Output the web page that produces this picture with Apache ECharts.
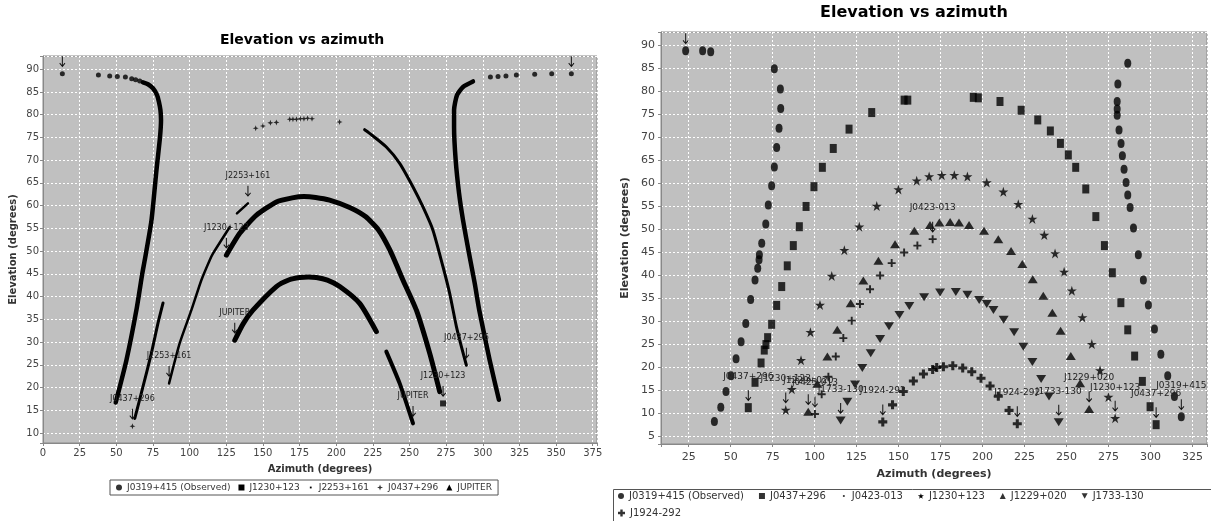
<!DOCTYPE html>
<html>
<head>
<meta charset="utf-8">
<script src="https://cdn.jsdelivr.net/npm/echarts@6/dist/echarts.min.js"></script>
<style>
  html, body { margin: 0; padding: 0; background: #fff; }
  #chart { width: 1211px; height: 521px; }
</style>
</head>
<body>
<div id="chart"></div>
<script>
var chartTitle = 'Elevation vs azimuth';
var azName = 'Azimuth (degrees)';
var elName = 'Elevation (degrees)';

// ---- left plot: [azimuth, elevation] ----
var leftNames = ['J0319+415 (Observed)', 'J1230+123', 'J2253+161', 'J0437+296', 'JUPITER'];

var l0319Dots = [[13.2, 89.0], [37.8, 88.7], [45.5, 88.5], [50.7, 88.4], [56.2, 88.3], [60.5, 87.9], [63.2, 87.7], [66, 87.4],
  [305.2, 88.3], [310.4, 88.4], [315.8, 88.5], [322.9, 88.7], [335.4, 88.9], [347, 89.0], [360.4, 89.0]];
var l0319TrackA = [[68.2, 87.1], [71.6, 86.7], [75, 85.8], [77.8, 84.3], [79.1, 82.8], [80.1, 81], [80.5, 78.8], [79.8, 75],
  [77.4, 67.8], [74, 56.8], [69.4, 48], [67.8, 45.2], [63.7, 37], [56.9, 26], [49.6, 16.7]];
var l0319TrackB = [[293.3, 87.3], [286.5, 86.1], [282.4, 84.3], [280.4, 81], [280.4, 77.3], [281.5, 70], [283.8, 62.7],
  [286.5, 56.8], [290.6, 49.5], [294.5, 42.9], [297.6, 37], [304.7, 26], [311, 17.3]];

var l1230Track = [[125.1, 49.1], [134.2, 53.9], [145.6, 57.9], [159.2, 60.8], [170, 61.7], [178, 62], [186, 61.8], [195.5, 61.2],
  [209.2, 59.6], [220, 57.6], [228.5, 54.8], [236.5, 50.3], [245.6, 43.6], [254.7, 37], [263.8, 27.5], [270.6, 19.1]];
var l1230Dots = [[272.9, 16.5]];

var l2253TrackA = [[86, 20.9], [93.2, 29.7], [101.2, 37], [108, 43.6], [113.7, 48], [116, 49.5], [127.4, 55.3]];
var l2253TrackB = [[132.3, 58.3], [139.8, 60.5]];

var l0437TrackA = [[62.6, 13.2], [68.2, 20.2], [73.9, 27.5], [78.4, 34.1], [81.9, 38.6]];
var l0437TrackB = [[219.4, 76.7], [222.8, 75.9], [234.2, 72.9], [243.3, 69.3], [252.4, 64.1], [259.2, 59.7], [266, 54.6],
  [272.9, 46.5], [277.4, 40.7], [282, 33.4], [285.4, 29], [288.8, 24.9]];
var l0437Dots = [[61, 11.5], [145.1, 77], [150, 77.5], [155.1, 78.2], [159.2, 78.3], [168.3, 79], [170.5, 79], [172.9, 79],
  [175.5, 79.1], [178, 79.1], [180.5, 79.2], [183.5, 79.1], [202.3, 78.4]];

var lJupTrackA = [[130.8, 30.4], [136.5, 34], [143.2, 37], [159.2, 42.2], [168, 43.7], [175.1, 44.2], [181, 44.3], [186.5, 44.2],
  [194, 43.6], [202.4, 42.2], [216, 38.5], [227.4, 32.3]];
var lJupTrackB = [[234.2, 27.9], [243.3, 20.9], [252.4, 12.1]];

// [label, azimuth, elevation]
var leftNotes = [
  ['', 13.2, 89.0], ['', 360.4, 89.0],
  ['J1230+123', 125.1, 49.1], ['J1230+123', 272.9, 16.5],
  ['J2253+161', 86, 20.9], ['J2253+161', 139.8, 60.5],
  ['J0437+296', 61, 11.5], ['J0437+296', 288.8, 24.9],
  ['JUPITER', 130.8, 30.4], ['JUPITER', 252.4, 12.1]
];

// ---- right plot ----
var rightNames = ['J0319+415 (Observed)', 'J0437+296', 'J0423-013', 'J1230+123', 'J1229+020', 'J1733-130', 'J1924-292'];

var r0319 = [[23.2, 88.8], [33.3, 88.8], [38.1, 88.6],
  [40.3, 8.3], [44.1, 11.4], [47.2, 14.8], [50.2, 18.2], [53.2, 21.9], [56.2, 25.6], [59, 29.6], [61.9, 34.8], [64.5, 39],
  [66.1, 41.6], [66.9, 43.4], [67.1, 44.5], [68.5, 47], [70.9, 51.2], [72.4, 55.3], [74.4, 59.5], [76, 63.6], [77.4, 67.8],
  [78.8, 72], [79.8, 76.3], [79.6, 80.5], [76, 84.9],
  [286.5, 86.1], [280.6, 81.6], [280.2, 77.8], [280.2, 76.2], [280.2, 74.8], [281.3, 71.6], [282.5, 68.7], [283.3, 66],
  [284.3, 63.1], [285.5, 60.2], [286.5, 57.5], [287.9, 54.8], [289.9, 50.3], [292.8, 44.5], [295.8, 39], [298.8, 33.6],
  [302.4, 28.4], [306.2, 22.9], [310.3, 18.2], [314.3, 13.7], [318.4, 9.3]];
var r0437 = [[60.5, 11.3], [64.5, 16.8], [68.1, 21], [70, 23.8], [71, 25], [72, 26.5], [74.4, 29.4], [77.4, 33.5], [80.4, 37.6],
  [83.7, 42.1], [87.3, 46.5], [90.9, 50.6], [94.9, 55], [99.6, 59.3], [104.6, 63.5], [111.1, 67.6], [120.5, 71.8], [134, 75.4],
  [153.3, 78.1], [155.5, 78.1], [194.5, 78.7], [197.5, 78.6], [210.4, 77.8], [223, 75.9], [232.9, 73.8], [240.4, 71.4],
  [246.4, 68.7], [251.1, 66.2], [255.5, 63.5], [261.5, 58.8], [267.5, 52.8], [272.6, 46.5], [277.3, 40.6], [282.4, 34.1],
  [286.5, 28.2], [290.6, 22.5], [295.2, 17], [299.8, 11.5], [303.4, 7.6]];
var r0423 = [[100.2, 9.9], [104.2, 14.2], [108.2, 18], [112.6, 22.4], [117.1, 26.4], [122.1, 30.2], [127, 33.8], [133, 37],
  [139, 40], [145.9, 42.7], [153.3, 45], [161.2, 46.5], [170.3, 47.9]];
var r1230 = [[82.8, 10.8], [86.4, 15.3], [91.9, 21.6], [97.5, 27.7], [103.2, 33.6], [110.2, 39.9], [117.7, 45.5], [126.6, 50.6],
  [137, 55.1], [149.9, 58.7], [160.8, 60.6], [168.2, 61.5], [175.7, 61.8], [183.2, 61.8], [191, 61.5], [202.5, 60.2],
  [212.4, 58.2], [221.3, 55.5], [229.7, 52.3], [236.8, 48.8], [243.2, 44.8], [248.6, 40.8], [253.2, 36.7], [259.5, 30.9],
  [265.1, 25.1], [270, 19.4], [275, 13.6], [279, 9]];
var r1229 = [[96.2, 10.4], [101.6, 16.5], [107.6, 22.4], [113.5, 28.2], [121.5, 34], [129, 38.9], [138, 43.2], [147.9, 46.8],
  [159.4, 49.7], [168.7, 51], [174.3, 51.5], [180.7, 51.6], [186, 51.5], [192, 51], [200.9, 49.7], [209.4, 47.9], [217, 45.3],
  [223.7, 42.5], [229.9, 39.2], [236.2, 35.6], [241.6, 31.9], [246.5, 28], [252.6, 22.5], [258.1, 16.6], [263.5, 11]];
var r1733 = [[115.5, 8.5], [119.5, 12.6], [124.1, 16.3], [128.4, 19.9], [133.4, 23.1], [139, 26.2], [144.3, 29], [150.5, 31.4],
  [156.4, 33.4], [165.2, 35.3], [174.7, 36.3], [184.1, 36.4], [191, 35.8], [198, 34.7], [202.5, 33.8], [206.5, 32.5],
  [212.6, 30.4], [218.8, 27.7], [224.3, 24.5], [229.7, 21.2], [234.9, 17.5], [239.6, 13.7], [245.4, 8.1]];
var r1924 = [[140.6, 8.2], [146.4, 11.9], [152.8, 14.8], [158.8, 17.1], [164.8, 18.6], [170.3, 19.6], [172.7, 20], [176.7, 20.2],
  [182.3, 20.4], [188.2, 19.9], [193.6, 19.1], [199.1, 17.7], [204.5, 16], [209.4, 13.8], [215.8, 10.7], [220.7, 7.8]];

var rightNotes = [
  ['', 23.2, 88.8],
  ['J0437+296', 60.5, 11.3], ['J0437+296', 303.4, 7.6],
  ['J1230+123', 82.8, 10.8], ['J1230+123', 279, 9],
  ['J1229+020', 96.2, 10.4], ['J1229+020', 263.5, 11],
  ['J0423-013', 100.2, 9.9], ['J0423-013', 170.3, 47.9],
  ['J1733-130', 115.5, 8.5], ['J1733-130', 245.4, 8.1],
  ['J1924-292', 140.6, 8.2], ['J1924-292', 220.7, 7.8],
  ['J0319+415', 318.4, 9.3]
];

// ---- symbols ----
var arrowPath = 'path://M2.5,0H3.5V8L5.3,6L6,6.7L3,10L0,6.7L0.7,6L2.5,8Z';
var star4 = 'path://M5,0L6.3,3.7L10,5L6.3,6.3L5,10L3.7,6.3L0,5L3.7,3.7Z';
var star5 = 'path://M5,0L6.18,3.62L10,3.62L6.91,5.86L8.09,9.51L5,7.27L1.91,9.51L3.09,5.86L0,3.62L3.82,3.62Z';
var downTri = 'path://M0,0H10L5,9Z';
var crossSym = 'path://M3.3,0H6.7V3.3H10V6.7H6.7V10H3.3V6.7H0V3.3H3.3Z';
var plusSym = 'path://M3.8,0H6.2V3.8H10V6.2H6.2V10H3.8V6.2H0V3.8H3.8Z';
var tinyDot = 'path://M0,0M10,10M3.5,3.5H6.5V6.5H3.5Z';

function every(step) {
  return function (v) {
    return Math.abs(v / step - Math.round(v / step)) < 1e-6 ? String(Math.round(v)) : '';
  };
}

function notes(list, fontSize, dist) {
  return {
    silent: true,
    symbol: arrowPath,
    symbolSize: [6, 11],
    symbolOffset: [0, -12],
    itemStyle: { color: '#111' },
    label: { show: true, position: 'top', distance: dist, color: '#222', fontSize: fontSize },
    data: list.map(function (n) {
      return { coord: [n[1], n[2]], value: n[0], label: { show: n[0] !== '', formatter: n[0] } };
    })
  };
}

function track(name, data, width, g) {
  return {
    name: name, type: 'line', xAxisIndex: g, yAxisIndex: g, data: data,
    symbol: 'none', showSymbol: false, silent: true, z: 3, smooth: 0.2,
    itemStyle: { color: '#000' },
    lineStyle: { color: '#000', width: width, cap: 'round', join: 'round' }
  };
}

function dots(name, data, symbol, size, g) {
  return {
    name: name, type: 'scatter', xAxisIndex: g, yAxisIndex: g, data: data,
    symbol: symbol, symbolSize: size, silent: true, z: 4,
    itemStyle: { color: '#000' }
  };
}

function xAxis(g, min, max, extra) {
  var ax = {
    gridIndex: g, type: 'value', min: min, max: max,
    name: azName, nameLocation: 'middle',
    axisLine: { show: true, onZero: false, lineStyle: { color: '#888' } },
    axisTick: { show: true, length: 3, lineStyle: { color: '#888' } },
    splitLine: { show: true, lineStyle: { color: '#fff', type: [2, 2], width: 1 } }
  };
  for (var k in extra) ax[k] = extra[k];
  return ax;
}

var chart = echarts.init(document.getElementById('chart'));

var series = [
  dots(leftNames[0], l0319Dots, 'circle', 5, 0),
  track(leftNames[0], l0319TrackA, 4.5, 0),
  track(leftNames[0], l0319TrackB, 4.5, 0),
  track(leftNames[1], l1230Track, 5, 0),
  dots(leftNames[1], l1230Dots, 'rect', 6, 0),
  track(leftNames[2], l2253TrackA, 2.5, 0),
  track(leftNames[2], l2253TrackB, 2.5, 0),
  dots(leftNames[3], l0437Dots, star4, 6, 0),
  track(leftNames[3], l0437TrackA, 3, 0),
  track(leftNames[3], l0437TrackB, 3, 0),
  track(leftNames[4], lJupTrackA, 5, 0),
  track(leftNames[4], lJupTrackB, 4, 0),

  dots(rightNames[0], r0319, 'circle', [7, 9], 1),
  dots(rightNames[1], r0437, 'rect', [7, 9], 1),
  dots(rightNames[2], r0423, plusSym, 8, 1),
  dots(rightNames[3], r1230, star5, 10, 1),
  dots(rightNames[4], r1229, 'triangle', [10, 8], 1),
  dots(rightNames[5], r1733, downTri, [10, 8], 1),
  dots(rightNames[6], r1924, crossSym, 9, 1)
];
series[0].markPoint = notes(leftNotes, 8, 6);
series[12].markPoint = notes(rightNotes, 9, 9);

var option = {
  animation: false,
  textStyle: { fontFamily: 'DejaVu Sans' },
  title: [
    { text: chartTitle, left: 220, top: 33, padding: 0,
      textStyle: { fontSize: 14, fontWeight: 'bold', color: '#000' } },
    { text: chartTitle, left: 820, top: 5, padding: 0,
      textStyle: { fontSize: 16, fontWeight: 'bold', color: '#000' } }
  ],
  grid: [
    { left: 43, top: 56, width: 554, height: 387, show: true, backgroundColor: '#c0c0c0',
      borderColor: '#8a8a8a', borderWidth: 1, outerBoundsMode: 'none' },
    { left: 661, top: 32, width: 546, height: 412, show: true, backgroundColor: '#c0c0c0',
      borderColor: '#8a8a8a', borderWidth: 1, outerBoundsMode: 'none' }
  ],
  xAxis: [
    xAxis(0, 0, 377.9, {
      interval: 25, nameGap: 21,
      nameTextStyle: { fontWeight: 'bold', fontSize: 10, color: '#333' },
      axisLabel: { fontSize: 10, color: '#444', margin: 5, formatter: every(25) }
    }),
    xAxis(1, 8.5, 333.7, {
      minInterval: 25, maxInterval: 25, nameGap: 25,
      nameTextStyle: { fontWeight: 'bold', fontSize: 11, color: '#333' },
      axisLabel: { fontSize: 11, color: '#444', margin: 8, formatter: every(25) }
    })
  ],
  yAxis: [
    { gridIndex: 0, type: 'value', min: 7.8, max: 92.9, minInterval: 5, maxInterval: 5,
      name: elName, nameLocation: 'middle', nameGap: 25,
      nameTextStyle: { fontWeight: 'bold', fontSize: 10, color: '#333' },
      axisLine: { show: true, onZero: false, lineStyle: { color: '#888' } },
      axisTick: { show: true, length: 3, lineStyle: { color: '#888' } },
      axisLabel: { fontSize: 10, color: '#444', margin: 4, formatter: every(5) },
      splitLine: { show: true, lineStyle: { color: '#fff', type: [2, 2], width: 1 } } },
    { gridIndex: 1, type: 'value', min: 3.4, max: 92.9, minInterval: 5, maxInterval: 5,
      name: elName, nameLocation: 'middle', nameGap: 30,
      nameTextStyle: { fontWeight: 'bold', fontSize: 11, color: '#333' },
      axisLine: { show: true, onZero: false, lineStyle: { color: '#888' } },
      axisTick: { show: true, length: 3, lineStyle: { color: '#888' } },
      axisLabel: { fontSize: 11, color: '#444', margin: 6, formatter: every(5) },
      splitLine: { show: true, lineStyle: { color: '#fff', type: [2, 2], width: 1 } } }
  ],
  legend: [
    { left: 110, top: 480, orient: 'horizontal', selectedMode: false,
      padding: [3, 6, 3, 6], itemGap: 8, itemWidth: 6, itemHeight: 6,
      borderColor: '#555', borderWidth: 1,
      textStyle: { fontSize: 9, color: '#333' },
      data: [
        { name: leftNames[0], icon: 'circle' },
        { name: leftNames[1], icon: 'rect' },
        { name: leftNames[2], icon: tinyDot },
        { name: leftNames[3], icon: star4 },
        { name: leftNames[4], icon: 'triangle' }
      ] },
    { left: 618, top: 491, orient: 'horizontal', selectedMode: false,
      padding: 0, itemGap: 15, itemWidth: 6, itemHeight: 6,
      textStyle: { fontSize: 10, color: '#333' },
      data: [
        { name: rightNames[0], icon: 'circle' },
        { name: rightNames[1], icon: 'rect' },
        { name: rightNames[2], icon: tinyDot },
        { name: rightNames[3], icon: star5 },
        { name: rightNames[4], icon: 'triangle' },
        { name: rightNames[5], icon: downTri }
      ] },
    { left: 618, top: 508, orient: 'horizontal', selectedMode: false,
      padding: 0, itemWidth: 7, itemHeight: 7,
      textStyle: { fontSize: 10, color: '#333' },
      data: [{ name: rightNames[6], icon: crossSym }] }
  ],
  graphic: [
    { type: 'rect', left: 611, top: 487, silent: true,
      shape: { width: 620, height: 60 },
      style: { fill: 'none', stroke: '#555', lineWidth: 1 } }
  ],
  series: series
};

chart.setOption(option);
</script>
</body>
</html>
